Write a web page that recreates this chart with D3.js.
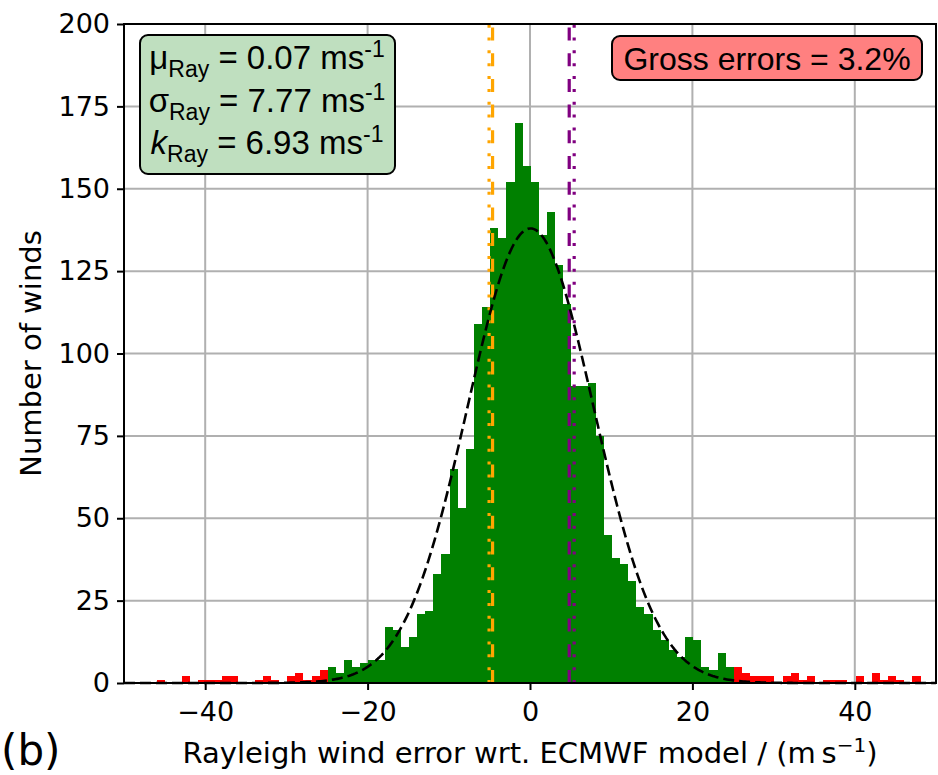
<!DOCTYPE html>
<html><head><meta charset="utf-8">
<script src="https://cdn.jsdelivr.net/npm/d3@7"></script>
<style>body{margin:0;background:#fff} svg{display:block}</style>
</head><body><svg id="c" width="938" height="775"></svg>
<script>
// ---- data ----
const binStart = -47.9;   // left edge of first bin (m/s)
const binWidth = 1;       // bin width (m/s)
const counts = [
  0,0,1,0,0,2,0,1,1,1,2,2,0,0,1,2,1,0,2,3,1,2,4,            // -47.9 .. -25.9
  5,3,7,5,6,7,7,17,16,11,14,21,22,33,39,65,53,71,109,114,  // -24.9 .. -5.9
  138,135,152,170,157,152,136,143,127,115,90,90,91,75,     // -4.9 .. 8.1
  45,38,36,31,23,21,16,13,10,8,14,13,5,4,9,5,              // 9.1 .. 24.1
  5,3,2,2,2,0,2,3,1,2,0,1,1,1,0,2,0,3,1,2,1,0,2            // 25.1 .. 47.1
];
const grossLimit = 25;
const muRay = 0.07, sigmaRay = 7.77, kRay = 6.93;
const grossPct = 3.2;
const xDomain = [-50, 50];
const yDomain = [0, 200];
const xTicks = [-40, -20, 0, 20, 40];
const yTicks = [0, 25, 50, 75, 100, 125, 150, 175, 200];
const vLines = [
  {x: -5.04, color: "orange", style: "dotted"},
  {x: -4.61, color: "orange", style: "dashed"},
  {x: 4.83, color: "purple", style: "dashed"},
  {x: 5.44, color: "purple", style: "dotted"}
];

// ---- layout ----
const svg = d3.select("#c");
const M = {left: 124, top: 24, right: 936, bottom: 683};
const x = d3.scaleLinear().domain(xDomain).range([M.left, M.right]);
const y = d3.scaleLinear().domain(yDomain).range([M.bottom, M.top]);
const TICKFONT = "DejaVu Sans";
const DASH = {dotted: "3,9.85", dashed: "13,12.7"};

const bins = counts.map((c, i) => {
  const x0 = binStart + i * binWidth;
  return {x0, x1: x0 + binWidth, c, gross: Math.abs(x0 + binWidth / 2) > grossLimit};
});

// grid
const g = svg.append("g");
g.selectAll("line.gx").data(xTicks).join("line")
  .attr("x1", d => x(d)).attr("x2", d => x(d)).attr("y1", M.top).attr("y2", M.bottom)
  .attr("stroke", "#b0b0b0").attr("stroke-width", 2);
g.selectAll("line.gy").data(yTicks).join("line")
  .attr("y1", d => y(d)).attr("y2", d => y(d)).attr("x1", M.left).attr("x2", M.right)
  .attr("stroke", "#b0b0b0").attr("stroke-width", 2);

// bars
const plot = svg.append("g");
plot.selectAll("rect").data(bins.filter(b => b.c > 0)).join("rect")
  .attr("x", d => x(d.x0)).attr("width", d => x(d.x1) - x(d.x0))
  .attr("y", d => y(d.c)).attr("height", d => y(0) - y(d.c))
  .attr("fill", d => d.gross ? "red" : "green")
  .attr("shape-rendering", "crispEdges");

// vertical lines (drawn bottom to top)
plot.selectAll("line.v").data(vLines).join("line")
  .attr("x1", d => x(d.x)).attr("x2", d => x(d.x)).attr("y1", M.bottom).attr("y2", M.top)
  .attr("stroke", d => d.color).attr("stroke-width", 3.2)
  .attr("stroke-dasharray", d => DASH[d.style]);

// gaussian
const nGood = d3.sum(bins.filter(b => !b.gross), b => b.c);
const gx = d3.range(xDomain[0], xDomain[1] + 0.001, 0.25);
const line = d3.line().x(d => x(d)).y(d => y(nGood * binWidth / (sigmaRay * Math.sqrt(2 * Math.PI)) * Math.exp(-((d - muRay) ** 2) / (2 * sigmaRay ** 2))));
plot.append("path").datum(gx).attr("d", line)
  .attr("fill", "none").attr("stroke", "black").attr("stroke-width", 2.6)
  .attr("stroke-dasharray", "11,5");

// spines
svg.append("rect").attr("x", M.left).attr("y", M.top)
  .attr("width", M.right - M.left).attr("height", M.bottom - M.top)
  .attr("fill", "none").attr("stroke", "black").attr("stroke-width", 2);

// axes
const xAxis = svg.append("g").attr("transform", `translate(0,${M.bottom})`)
  .call(d3.axisBottom(x).tickValues(xTicks).tickSize(7).tickPadding(12).tickFormat(d => d < 0 ? "\u2212" + Math.abs(d) : d));
const yAxis = svg.append("g").attr("transform", `translate(${M.left},0)`)
  .call(d3.axisLeft(y).tickValues(yTicks).tickSize(7).tickPadding(7));
[xAxis, yAxis].forEach(a => {
  a.select(".domain").remove();
  a.selectAll(".tick line").attr("stroke", "black").attr("stroke-width", 2);
  a.selectAll(".tick text").attr("font-family", TICKFONT).attr("font-size", 27).attr("fill", "black");
});

// axis labels
svg.append("text").attr("x", (M.left + M.right) / 2 + 0).attr("y", 763)
  .attr("text-anchor", "middle").attr("font-family", TICKFONT).attr("font-size", 29)
  .html('Rayleigh wind error wrt. ECMWF model / (m\u2009s<tspan dy="-11" font-size="20">\u22121</tspan><tspan dy="11">)</tspan>');
svg.append("text").attr("transform", `translate(41,${(M.top + M.bottom) / 2}) rotate(-90)`)
  .attr("text-anchor", "middle").attr("font-family", TICKFONT).attr("font-size", 29)
  .text("Number of winds");
svg.append("text").attr("x", 1).attr("y", 765).attr("font-family", TICKFONT).attr("font-size", 42)
  .text("(b)");

// stats box
const BF = "Liberation Sans";
svg.append("rect").attr("x", 140).attr("y", 35).attr("width", 255).attr("height", 139).attr("rx", 8)
  .attr("fill", "rgb(191,223,191)").attr("stroke", "black").attr("stroke-width", 2);
const statLines = [
  {sym: "\u03bc", italic: false, val: muRay},
  {sym: "\u03c3", italic: false, val: sigmaRay},
  {sym: "k", italic: true, val: kRay}
];
statLines.forEach((s, i) => {
  const t = svg.append("text").attr("x", 267).attr("y", 69 + i * 42.5)
    .attr("text-anchor", "middle").attr("font-family", BF).attr("font-size", 33);
  t.append("tspan").attr("font-style", s.italic ? "italic" : "normal").text(s.sym);
  t.append("tspan").attr("font-size", 23).attr("dy", 8).text("Ray");
  t.append("tspan").attr("dy", -8).text(` = ${s.val.toFixed(2)} ms`);
  t.append("tspan").attr("font-size", 23).attr("dy", -12).text("-1");
});

// gross error box
svg.append("rect").attr("x", 612).attr("y", 36).attr("width", 310).attr("height", 44).attr("rx", 8)
  .attr("fill", "rgb(255,128,128)").attr("stroke", "black").attr("stroke-width", 2);
svg.append("text").attr("x", 767).attr("y", 70).attr("text-anchor", "middle")
  .attr("font-family", BF).attr("font-size", 32).text(`Gross errors = ${grossPct}%`);
</script></body></html>
